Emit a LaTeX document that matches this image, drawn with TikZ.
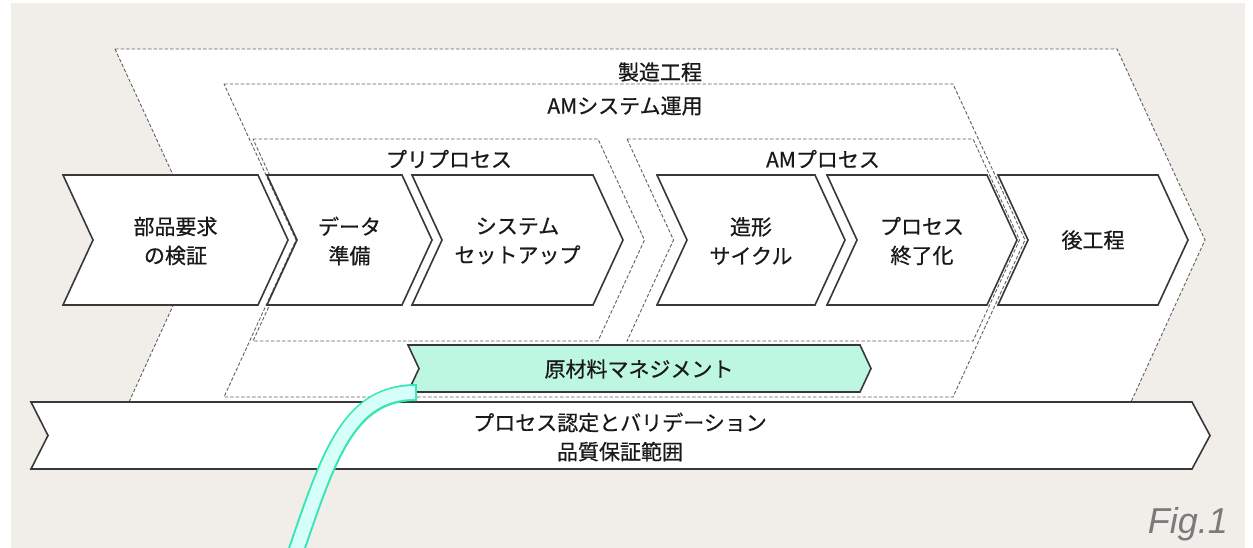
\documentclass[tikz,border=0pt]{standalone}
\usepackage{fontspec}
\setmainfont{Noto Sans CJK JP}[FakeBold=0.6]
\newfontfamily\figfont{Liberation Sans}
\usepackage{xcolor}
\usepackage{tikz}

\definecolor{paper}{HTML}{F1EEEA}
\definecolor{edge}{HTML}{383838}
\definecolor{dashgray}{HTML}{606060}
\definecolor{mint}{HTML}{BDF6E1}
\definecolor{mintline}{HTML}{36E6B4}
\definecolor{mintpale}{HTML}{D6FFF9}
\definecolor{figgray}{HTML}{7A7A7A}

\tikzset{
  stage/.style={draw=edge, fill=white, line width=1.6pt},
  area/.style={draw=dashgray, fill=white, line width=0.9pt, dash pattern=on 3.5pt off 2pt},
  lbl/.style={align=center, inner sep=0pt, text=black!90, font=\fontsize{21}{29}\selectfont},
}

\begin{document}
\begin{tikzpicture}[x=1pt,y=-1pt]
                \clip (0,0) rectangle (1253,548);
                \fill[white] (0,0) rectangle (1253,548);
                \fill[paper] (11,3) rectangle (1245,548);

                % nested dashed areas
                \draw[area] (115,49) -- (1117,49) -- (1205,240) -- (1131,402) -- (129,402) -- (203,240) -- cycle;
                \draw[area] (224,84) -- (953,84) -- (1025,240) -- (953,397) -- (224,397) -- (296,240) -- cycle;
                \draw[area] (253,139) -- (598,139) -- (644.5,240) -- (598,341) -- (253,341) -- (299.5,240) -- cycle;
                \draw[area] (627,139) -- (973,139) -- (1019.5,240) -- (973,341) -- (627,341) -- (673.5,240) -- cycle;

                \node[lbl] (seizo) at (660,72) {製造工程};
                \node[lbl] (amsys) at (625,106) {AMシステム運用};
                \node[lbl] (pre) at (449,159) {プリプロセス};
                \node[lbl] (amproc) at (823,159) {AMプロセス};

                % process chevrons
                \draw[stage] (63,175) -- (258,175) -- (288,240) -- (258,305) -- (63,305) -- (93,240) -- cycle;
                \draw[stage] (267,175) -- (402,175) -- (432,240) -- (402,305) -- (267,305) -- (297,240) -- cycle;
                \draw[stage] (412,175) -- (593,175) -- (623,240) -- (593,305) -- (412,305) -- (442,240) -- cycle;
                \draw[stage] (657,175) -- (815,175) -- (845,240) -- (815,305) -- (657,305) -- (687,240) -- cycle;
                \draw[stage] (827,175) -- (987,175) -- (1017,240) -- (987,305) -- (827,305) -- (857,240) -- cycle;
                \draw[stage] (998,175) -- (1158,175) -- (1188,240) -- (1158,305) -- (998,305) -- (1028,240) -- cycle;

                \node[lbl] (verify) at (175.5,241) {部品要求\\の検証};
                \node[lbl] (data) at (349.5,241) {データ\\準備};
                \node[lbl] (setup) at (517.5,241) {システム\\セットアップ};
                \node[lbl] (build) at (751,241) {造形\\サイクル};
                \node[lbl] (finish) at (922,241) {プロセス\\終了化};
                \node[lbl] (post) at (1093,240) {後工程};

                % material and quality bars
                \draw[stage, fill=mint] (408,345) -- (860,345) -- (871,368.5) -- (860,392) -- (408,392) -- (419,368.5) -- cycle;
                \node[lbl] (material) at (639,369) {原材料マネジメント};
                \draw[stage] (31,402) -- (1192,402) -- (1210,435.5) -- (1192,469) -- (31,469) -- (48,435.5) -- cycle;
                \node[lbl] (quality) at (620,437) {プロセス認定とバリデーション\\品質保証範囲};

                % feed line
                \coordinate (feedtop) at (417,392.5);
                \coordinate (feedend) at (293,560);
                \draw[mintline, line width=17pt] (feedtop) .. controls (347,392.5) and (328,458) .. (feedend);
                \draw[mintpale, line width=13pt, shorten <=2pt] (feedtop) .. controls (347,392.5) and (328,458) .. (feedend);

                \node[anchor=base east, inner sep=0pt, text=figgray, font=\figfont\itshape\fontsize{36}{40}\selectfont] (fig) at (1228,533) {Fig.1};
\end{tikzpicture}
\end{document}
